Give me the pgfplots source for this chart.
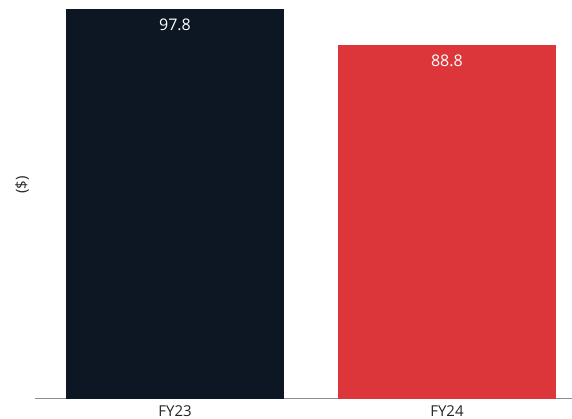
\documentclass[border=0pt]{standalone}
\usepackage{fontspec}
\setmainfont{Open Sans}
\usepackage{pgfplots}
\pgfplotsset{compat=1.18}
\definecolor{navybar}{RGB}{12,23,35}
\definecolor{redbar}{RGB}{220,54,58}
\definecolor{baseline}{RGB}{140,140,140}
\begin{document}
\begin{tikzpicture}
\useasboundingbox (-35pt,-20pt) rectangle (537pt,399pt);
\begin{axis}[
  scale only axis,
  width=537pt, height=399pt,
  ybar, bar width=0.8,
  bar shift=0pt,
  xmin=-0.515, xmax=1.46,
  ymin=0, ymax=100,
  axis x line*=bottom,
  axis y line*=left,
  y axis line style={draw=none},
  ytick=\empty,
  x axis line style={draw=baseline, line width=1pt, -},
  xtick={0,1}, xticklabels={FY23,FY24},
  major tick length=0pt,
  xticklabel style={font=\fontsize{15}{17}\selectfont, text=black!85, yshift=-3.5pt},
  ylabel={(\$)},
  ylabel style={font=\fontsize{15}{17}\selectfont, text=black!85, at={(axis description cs:-0.024,0.536)}, anchor=center},
  /pgf/number format/assume math mode=true,
  nodes near coords={\pgfmathprintnumber[fixed,fixed zerofill,precision=1]{\pgfplotspointmeta}},
  every node near coord/.append style={anchor=north, text=white, font=\fontsize{16}{18}\selectfont, yshift=-7pt},
  clip=false,
]
\addplot[fill=navybar, draw=none] coordinates {(0,97.8)};
\addplot[fill=redbar, draw=none] coordinates {(1,88.8)};
\end{axis}
\end{tikzpicture}
\end{document}
